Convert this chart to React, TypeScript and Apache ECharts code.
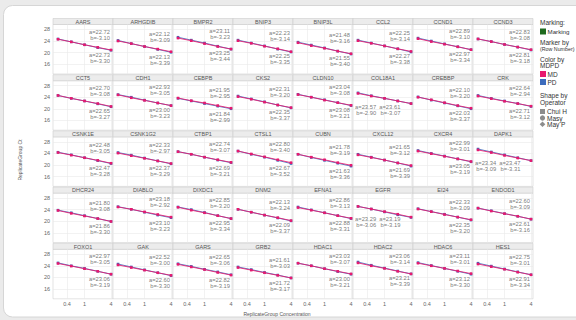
import React, { useEffect, useRef } from 'react';
import * as echarts from 'echarts';

const genes = [
  'AARS', 'ARHGDIB', 'BMPR2', 'BNIP3', 'BNIP3L', 'CCL2', 'CCND1', 'CCND3',
  'CCT5', 'CDH1', 'CEBPB', 'CKS2', 'CLDN10', 'COL18A1', 'CREBBP', 'CRK',
  'CSNK1E', 'CSNK1G2', 'CTBP1', 'CTSL1', 'CUBN', 'CXCL12', 'CXCR4', 'DAPK1',
  'DHCR24', 'DIABLO', 'DIXDC1', 'DNM2', 'EFNA1', 'EGFR', 'EI24', 'ENDOD1',
  'FOXO1', 'GAK', 'GARS', 'GRB2', 'HDAC1', 'HDAC2', 'HDAC6', 'HES1',
];

const concentrations = [0.25, 0.5, 1, 2, 4];

const mdA = [
  22.72, 22.12, 23.11, 22.23, 21.48, 22.25, 22.89, 22.83,
  22.7, 22.93, 21.95, 22.31, 23.04, 23.57, 22.1, 22.64,
  22.48, 22.33, 22.74, 22.8, 21.78, 21.65, 22.99, 23.34,
  21.8, 23.18, 22.85, 22.13, 22.86, 23.29, 22.33, 22.6,
  22.97, 22.52, 22.65, 21.61, 23.03, 23.06, 23.11, 22.75,
];
const mdB = [
  -3.1, -3.09, -3.23, -3.14, -3.16, -3.14, -3.1, -3.08,
  -3.08, -3.05, -2.95, -3.2, -3.08, -2.9, -3.2, -2.94,
  -3.05, -2.97, -3.07, -3.4, -3.19, -3.12, -3.01, -3.09,
  -3.08, -2.92, -3.2, -3.24, -3.13, -3.06, -3.09, -3.09,
  -3.05, -3.0, -3.06, -3.03, -3.07, -3.14, -3.01, -3.01,
];
const pdA = [
  22.73, 22.13, 23.25, 22.25, 21.55, 22.27, 22.97, 22.81,
  22.65, 23.0, 21.84, 22.35, 23.08, 23.61, 22.03, 22.71,
  22.47, 22.37, 22.69, 22.67, 21.63, 21.69, 23.05, 23.47,
  21.86, 23.1, 22.95, 22.09, 22.88, 23.19, 22.35, 22.61,
  23.06, 22.6, 22.82, 21.72, 23.0, 23.21, 23.12, 22.91,
];
const pdB = [
  -3.3, -3.39, -3.44, -3.35, -3.4, -3.38, -3.34, -3.18,
  -3.27, -3.23, -2.99, -3.37, -3.21, -3.07, -3.37, -3.12,
  -3.28, -3.29, -3.21, -3.52, -3.36, -3.39, -3.19, -3.31,
  -3.3, -3.23, -3.34, -3.37, -3.31, -3.19, -3.2, -3.16,
  -3.19, -3.3, -3.19, -3.17, -3.21, -3.39, -3.3, -3.34,
];

// Ct at concentrations 0.25, 0.5, 1, 2, 4
const mdCt = [
  [24.6, 23.7, 22.7, 21.8, 20.9], [24.0, 23.1, 22.1, 21.2, 20.3], [25.0, 24.1, 23.1, 22.1, 21.2], [24.1, 23.2, 22.2, 21.3, 20.3],
  [23.4, 22.4, 21.5, 20.5, 19.6], [24.1, 23.2, 22.3, 21.3, 20.4], [24.8, 23.8, 22.9, 22.0, 21.0], [24.7, 23.8, 22.8, 21.9, 21.0],
  [24.6, 23.6, 22.7, 21.8, 20.8], [24.8, 23.8, 22.9, 22.0, 21.1], [23.7, 22.8, 22.0, 21.1, 20.2], [24.2, 23.3, 22.3, 21.3, 20.4],
  [24.9, 24.0, 23.0, 22.1, 21.2], [25.3, 24.4, 23.6, 22.7, 21.8], [24.0, 23.1, 22.1, 21.1, 20.2], [24.4, 23.5, 22.6, 21.8, 20.9],
  [24.3, 23.4, 22.5, 21.6, 20.6], [24.1, 23.2, 22.3, 21.4, 20.5], [24.6, 23.7, 22.7, 21.8, 20.9], [24.8, 23.8, 22.8, 21.8, 20.8],
  [23.7, 22.7, 21.8, 20.8, 19.9], [23.5, 22.6, 21.7, 20.7, 19.8], [24.8, 23.9, 23.0, 22.1, 21.2], [25.2, 24.3, 23.3, 22.4, 21.5],
  [23.7, 22.7, 21.8, 20.9, 19.9], [24.9, 24.1, 23.2, 22.3, 21.4], [24.8, 23.8, 22.9, 21.9, 20.9], [24.1, 23.1, 22.1, 21.2, 20.2],
  [24.7, 23.8, 22.9, 21.9, 21.0], [25.1, 24.2, 23.3, 22.4, 21.4], [24.2, 23.3, 22.3, 21.4, 20.5], [24.5, 23.5, 22.6, 21.7, 20.7],
  [24.8, 23.9, 23.0, 22.1, 21.1], [24.3, 23.4, 22.5, 21.6, 20.7], [24.5, 23.6, 22.7, 21.7, 20.8], [23.4, 22.5, 21.6, 20.7, 19.8],
  [24.9, 24.0, 23.0, 22.1, 21.2], [25.0, 24.0, 23.1, 22.1, 21.2], [24.9, 24.0, 23.1, 22.2, 21.3], [24.6, 23.7, 22.8, 21.8, 20.9],
];
const pdCt = [
  [24.7, 23.7, 22.7, 21.7, 20.8], [24.2, 23.1, 22.1, 21.1, 20.1], [25.3, 24.3, 23.3, 22.2, 21.2], [24.3, 23.3, 22.3, 21.2, 20.2],
  [23.6, 22.6, 21.6, 20.5, 19.5], [24.3, 23.3, 22.3, 21.3, 20.2], [25.0, 24.0, 23.0, 22.0, 21.0], [24.7, 23.8, 22.8, 21.9, 20.9],
  [24.6, 23.6, 22.7, 21.7, 20.7], [24.9, 24.0, 23.0, 22.0, 21.1], [23.6, 22.7, 21.8, 20.9, 20.0], [24.4, 23.4, 22.4, 21.3, 20.3],
  [25.0, 24.0, 23.1, 22.1, 21.1], [25.5, 24.5, 23.6, 22.7, 21.8], [24.1, 23.0, 22.0, 21.0, 20.0], [24.6, 23.6, 22.7, 21.8, 20.8],
  [24.4, 23.5, 22.5, 21.5, 20.5], [24.3, 23.4, 22.4, 21.4, 20.4], [24.6, 23.7, 22.7, 21.7, 20.8], [24.8, 23.7, 22.7, 21.6, 20.5],
  [23.7, 22.6, 21.6, 20.6, 19.6], [23.7, 22.7, 21.7, 20.7, 19.6], [25.0, 24.0, 23.1, 22.1, 21.1], [25.5, 24.5, 23.5, 22.5, 21.5],
  [23.8, 22.9, 21.9, 20.9, 19.9], [25.0, 24.1, 23.1, 22.1, 21.2], [24.9, 24.0, 23.0, 21.9, 20.9], [24.1, 23.1, 22.1, 21.1, 20.1],
  [24.9, 23.9, 22.9, 21.9, 20.9], [25.1, 24.2, 23.2, 22.2, 21.3], [24.3, 23.3, 22.4, 21.4, 20.4], [24.5, 23.6, 22.6, 21.7, 20.7],
  [25.0, 24.0, 23.1, 22.1, 21.1], [24.6, 23.6, 22.6, 21.6, 20.6], [24.7, 23.8, 22.8, 21.9, 20.9], [23.6, 22.7, 21.7, 20.8, 19.8],
  [24.9, 24.0, 23.0, 22.0, 21.1], [25.3, 24.2, 23.2, 22.2, 21.2], [25.1, 24.1, 23.1, 22.1, 21.1], [24.9, 23.9, 22.9, 21.9, 20.9],
];

// panels whose fit labels sit side by side under the lines
const lowLabelGenes = ['COL18A1', 'DAPK1', 'EGFR'];

const xTickValues = [0.4, 1, 4];
const xTickLabels = ['0.4', '1', '4'];
const yTickValues = [16, 20, 24, 28];

const seriesNames = ['MD', 'PD'];
const operators = ['Chui H', 'Masy', 'May P'];

const MD_COLOR = '#e8196e';
const PD_COLOR = '#3d6cbc';
const FONT = 'Liberation Sans, Arial, sans-serif';

function buildOption() {
  const COLS = 8;
  const PANEL_LEFT = 53;
  const PANEL_W = 60;
  const HEADER_TOP = 18.5;
  const ROW_PITCH = 56.2;
  const HEADER_H = 6;
  const PLOT_H = 49.5;
  const xMin = -0.716;
  const xMax = 0.647;
  const yMin = 12.6;
  const yMax = 29.7;
  const xTickLogs = xTickValues.map((v) => Math.log10(v));

  const grids: any[] = [];
  const xAxes: any[] = [];
  const yAxes: any[] = [];
  const series: any[] = [];
  const graphics: any[] = [];

  graphics.push({
    type: 'rect', z: -100,
    shape: { x: 3.5, y: 5.5, width: 600, height: 311.5, r: 9 },
    style: { fill: '#ffffff', stroke: '#d6d6d6', lineWidth: 1 },
  });

  const nRows = Math.ceil(genes.length / COLS);

  genes.forEach((g, i) => {
    const r = Math.floor(i / COLS);
    const c = i % COLS;
    const left = PANEL_LEFT + c * PANEL_W;
    const headerTop = HEADER_TOP + r * ROW_PITCH;
    const top = headerTop + HEADER_H;

    grids.push({
      left, top, width: PANEL_W, height: PLOT_H,
      show: true, backgroundColor: '#ffffff', borderColor: '#d0d0d0', borderWidth: 0.6,
    });
    xAxes.push({
      gridIndex: i, type: 'value', min: xMin, max: xMax,
      axisLine: { show: false },
      axisTick: { show: false, customValues: xTickLogs },
      axisLabel: {
        show: r === nRows - 1, customValues: xTickLogs, fontSize: 5.5, color: '#666', margin: 2, fontFamily: FONT,
        formatter: (v: number) => {
          let best = 0;
          xTickLogs.forEach((t, k) => { if (Math.abs(t - v) < Math.abs(xTickLogs[best] - v)) best = k; });
          return xTickLabels[best];
        },
      },
      splitLine: { show: true, lineStyle: { color: '#e9e9e9', width: 0.6 } },
    });
    yAxes.push({
      gridIndex: i, type: 'value', min: yMin, max: yMax,
      axisLine: { show: false },
      axisTick: { show: false, customValues: yTickValues },
      axisLabel: { show: c === 0, customValues: yTickValues, fontSize: 5.5, color: '#666', margin: 3, fontFamily: FONT },
      splitLine: { show: true, lineStyle: { color: '#e9e9e9', width: 0.6 } },
    });

    const ctSets = [pdCt[i], mdCt[i]];
    const colors = [PD_COLOR, MD_COLOR];
    const names = [seriesNames[1], seriesNames[0]];
    ctSets.forEach((cts, s) => {
      series.push({
        type: 'line', name: names[s], xAxisIndex: i, yAxisIndex: i, silent: true,
        data: concentrations.map((cc, k) => [Math.log10(cc), cts[k]]),
        symbol: 'rect', symbolSize: 2.6, showSymbol: true,
        lineStyle: { color: colors[s], width: 1, opacity: 0.85 },
        itemStyle: { color: colors[s] },
        z: 3 + s,
      });
    });

    const t1 = `a=${mdA[i].toFixed(2)}\nb=${mdB[i].toFixed(2)}`;
    const t2 = `a=${pdA[i].toFixed(2)}\nb=${pdB[i].toFixed(2)}`;
    const low = lowLabelGenes.includes(g);
    const labelData = low
      ? [{ name: t1, value: [-0.19, 19.6] }, { name: t2, value: [0.36, 19.6] }]
      : [{ name: t1, value: [0.58, mdA[i] + 3.4] }, { name: t2, value: [0.58, pdA[i] - 4.6] }];
    series.push({
      type: 'scatter', xAxisIndex: i, yAxisIndex: i, silent: true, symbolSize: 0, z: 6,
      label: {
        show: true, position: 'left', distance: 0, formatter: '{b}', fontSize: 5.8, lineHeight: 6,
        color: '#555', align: 'right', fontFamily: FONT,
      },
      data: labelData,
    });

    graphics.push({
      type: 'rect',
      shape: { x: left, y: headerTop, width: PANEL_W, height: HEADER_H },
      style: { fill: '#ececec', stroke: '#cdcdcd', lineWidth: 0.6 },
    });
    graphics.push({
      type: 'text', x: left + PANEL_W / 2, y: headerTop + HEADER_H / 2 + 0.3,
      style: { text: g, fontSize: 5.5, fill: '#555', align: 'center', verticalAlign: 'middle', fontFamily: FONT },
    });
  });

  // axis titles
  graphics.push({
    type: 'text', x: 20, y: 160, rotation: Math.PI / 2,
    style: { text: 'ReplicateGroup Ct', fontSize: 5, fill: '#555', align: 'center', verticalAlign: 'middle', fontFamily: FONT },
  });
  graphics.push({
    type: 'text', x: 277, y: 313.5,
    style: { text: 'ReplicateGroup Concentration', fontSize: 5, fill: '#555', align: 'center', verticalAlign: 'middle', fontFamily: FONT },
  });

  // legend panel
  const LX = 540;
  const txt = (text: string, x: number, y: number, size = 6.5) => ({
    type: 'text', x, y,
    style: { text, fontSize: size, fill: '#333', align: 'left', verticalAlign: 'middle', fontFamily: FONT },
  });
  graphics.push(txt('Marking:', LX, 22.5));
  graphics.push({ type: 'rect', shape: { x: LX, y: 28.5, width: 6, height: 6 }, style: { fill: '#1e6a1e' } });
  graphics.push(txt('Marking', LX + 7.5, 31.5, 6.2));
  graphics.push(txt('Marker by', LX, 42.5));
  graphics.push(txt('(Row Number)', LX, 49, 5.3));
  graphics.push(txt('Color by', LX, 59));
  graphics.push(txt('MDPD', LX, 65.5));
  graphics.push({ type: 'rect', shape: { x: LX, y: 71, width: 6, height: 6 }, style: { fill: MD_COLOR } });
  graphics.push(txt(seriesNames[0], LX + 7.5, 74));
  graphics.push({ type: 'rect', shape: { x: LX, y: 79, width: 6, height: 6 }, style: { fill: PD_COLOR } });
  graphics.push(txt(seriesNames[1], LX + 7.5, 82));
  graphics.push(txt('Shape by', LX, 95.5));
  graphics.push(txt('Operator', LX, 102));
  graphics.push({ type: 'rect', shape: { x: LX, y: 109, width: 5, height: 5 }, style: { fill: '#8c8c8c' } });
  graphics.push(txt(operators[0], LX + 7, 111.5));
  graphics.push({ type: 'circle', shape: { cx: LX + 2.5, cy: 118, r: 2.6 }, style: { fill: '#8c8c8c' } });
  graphics.push(txt(operators[1], LX + 7, 118));
  graphics.push({
    type: 'polygon',
    shape: { points: [[LX + 2.5, 121.5], [LX + 5.3, 124.3], [LX + 2.5, 127.1], [LX - 0.3, 124.3]] },
    style: { fill: '#8c8c8c' },
  });
  graphics.push(txt(operators[2], LX + 7, 124.5));

  return {
    animation: false,
    backgroundColor: '#ebebeb',
    textStyle: { fontFamily: FONT },
    grid: grids,
    xAxis: xAxes,
    yAxis: yAxes,
    series,
    graphic: graphics,
  };
}

export default function App() {
  const ref = useRef<HTMLDivElement>(null);
  useEffect(() => {
    if (!ref.current) return;
    const chart = echarts.init(ref.current, undefined, { renderer: 'svg' });
    chart.setOption(buildOption() as any);
    return () => chart.dispose();
  }, []);
  return (
    <div
      ref={ref}
      style={{ position: 'absolute', left: 0, top: 0, width: 576, height: 320 }}
    />
  );
}
